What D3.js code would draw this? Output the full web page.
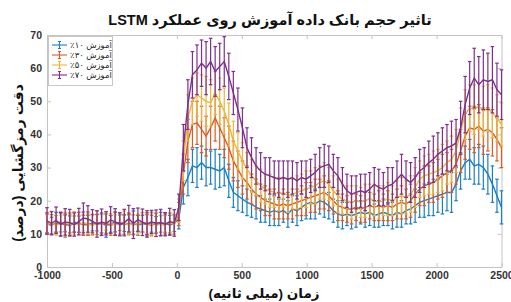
<!DOCTYPE html>
<html lang="fa">
<head>
    <meta charset="UTF-8">
    <title>LSTM</title>
    <script src="https://d3js.org/d3.v7.min.js"></script>
    <style>
        body { margin: 0; background: #ffffff; }
        svg { display: block; font-family: "Liberation Sans", Arial, "DejaVu Sans", sans-serif; }
        .fa { font-family: "Liberation Sans", "DejaVu Sans", sans-serif; direction: rtl; unicode-bidi: embed; }
        .axis path, .axis line { stroke: #c4c4c4; }
        .axis text { fill: #333; font-size: 10.5px; font-weight: bold; }
    </style>
</head>
<body>
<svg width="511" height="302"></svg>
<script>
    // زمان: -1000 تا 2500 میلی ثانیه، 101 نقطه
    const timeStart = -1000, timeEnd = 2500, numPoints = 101;
    const times = d3.range(numPoints).map(i => timeStart + i * (timeEnd - timeStart) / (numPoints - 1));

    const xTicks = [-1000, -500, 0, 500, 1000, 1500, 2000, 2500];
    const yTicks = [0, 10, 20, 30, 40, 50, 60, 70];

    const seriesNames = ["آموزش ۱۰٪", "آموزش ۳۰٪", "آموزش ۵۰٪", "آموزش ۷۰٪"];
    const seriesColors = ["#1b7fc6", "#dd5a22", "#edb43a", "#7e2f8e"];

    const blue = [13,12.5,13.5,12.8,13.2,12.4,13.6,12.9,13.1,12.6,13.4,12.8,13.3,12.5,13.0,13.6,12.7,13.2,12.9,13.4,12.6,13.1,12.8,13.5,12.7,13.0,13.3,12.6,13.2,
        14.5,
        24,27,30.5,30,31.5,30,30,29.5,29,30,26,22.5,21.5,20.5,
        19.5,19,18,17.5,17,16.5,17,16.5,17,16,17.5,17,18,19,19.5,19,20,19.5,18.5,17,16,15.5,16,15.5,16,16.5,16,16.5,
        15.5,16,16.5,16,15.5,16.5,16,17,17.5,18.5,19.5,20,20.5,21,21.5,22,22.5,22.5,25,29,31.5,32.5,30.5,31,30,28,25,21.5,18];
    const orange = [13.4,12.8,13.0,13.6,12.5,13.3,12.9,13.5,12.6,13.1,12.8,13.4,12.9,13.2,12.6,13.0,13.5,12.8,13.3,12.7,13.1,13.4,12.9,12.6,13.2,13.0,12.7,13.3,12.9,
        16,
        28,38,43,43.5,41.5,39.5,42,45,42,39,36,32,29.5,27,
        25.5,23.5,22,21,20,19.5,19,18.5,19,18.5,19,19.5,20,20.5,21,21.5,22,22.5,21.5,20,18.5,18,17.5,17.5,18,17.5,18,18.5,
        18,18.5,18,18.5,18,19,19.5,19,20,22,23.5,24.5,25,25.5,26.5,27.5,28.5,29,31,35,39.5,42,41.5,42.5,41,41.5,40.5,38.5,36];
    const yellow = [12.8,13.3,12.6,13.1,13.5,12.9,13.2,12.7,13.4,13.0,12.5,13.3,12.8,13.6,13.1,12.7,13.0,13.4,12.6,13.2,12.9,13.5,13.1,12.8,13.3,12.6,13.0,13.4,12.8,
        17,
        32,45,50,52,51,50,49.5,52.5,50,47,43,38,35,32,
        29.5,27.5,26,24.5,23.5,23,22.5,22,22.5,21.5,22,22.5,23,23.5,24,24.5,25.5,26,25,23,21.5,20.5,20,19.5,20,19.5,20,20.5,
        20,19.5,20,20.5,20,21,21.5,21,22,24,26.5,27.5,28,28.5,29,30,31.5,32.5,35,41,46,48,47.5,48.5,47,48,46.5,45,43];
    const purple = [13.9,13.2,14.1,12.9,13.6,13.4,12.8,13.7,14.8,14.5,13.8,13.0,13.5,13.2,14.2,13.6,12.9,13.4,14.6,13.1,14.3,13.5,13.0,13.6,13.2,13.4,12.9,13.7,13.3,
        18,
        36,49,58,59.5,61.5,60,62,59,60.5,62,57.5,52.5,47.5,42,
        36,33,30.5,29,28,27.5,27,26.5,27,26.5,27,26,27,26.5,27.5,28.5,30,
        30.5,31,29,27.5,25,23,22,22.5,23,22.5,23.5,
        25,24,23.5,24.5,25,26.5,28,26.5,25.5,27,29,30,31.5,32.5,34,35,36,36.5,37.5,42,49,54,57,55,56.5,56,56.5,53.5,52];

    // نیم طول میله خطا
    const blueErr = [3,2.5,3,3.5,2.5,3,3,2.5,3.5,3,2.5,3,3,3.5,2.5,3,3,2.5,3,3.5,3,2.5,3,3,2.5,3.5,3,3,2.5,
        3,
        5,5.5,5,6,5,5.5,5,6,5,5.5,5,4.5,4.5,4,
        4,4,3.5,4,3.5,4,4.5,4,3.5,4,4,4.5,4,4.5,5,4.5,4,4.5,4,3.5,4,4,3.5,4,4,3.5,4,4,
        3.5,4,4,3.5,4,4.5,4,4,4.5,5,4.5,5,5,5.5,5,6,5.5,6,5,5.5,5,6,5.5,6,6.5,6,5.5,5,5];
    const orangeErr = [3,3,2.5,3,3.5,3,2.5,3,3,3.5,3,2.5,3,3,3,3.5,2.5,3,3,3,2.5,3,3.5,3,3,2.5,3,3,3,
        3.5,
        6,6.5,7,6.5,7,6,6.5,7,6.5,6,6.5,6,5.5,5,
        5,4.5,4.5,4,4.5,4,4.5,4,4.5,4,4.5,4,4.5,5,4.5,5,4.5,5,4.5,4,4.5,4,4,4.5,4,4,4.5,4,
        4,4.5,4,4.5,4,4.5,5,4.5,5,5.5,5,6,5.5,6,6,6.5,6,6.5,6,6.5,7,6.5,7,6.5,7,6.5,7,6.5,6];
    const yellowErr = [3,3.5,3,2.5,3,3,3.5,3,2.5,3,3,3.5,3,2.5,3,3,3,3.5,3,2.5,3,3,3,3.5,3,3,2.5,3,3,
        3.5,
        6,7,7,6.5,7,7.5,7,6.5,7,7,6.5,6,5.5,5.5,
        5,5,4.5,5,4.5,5,4.5,5,4.5,5,4.5,5,5,5.5,5,5.5,5,5.5,5,4.5,5,4.5,4.5,5,4.5,4.5,5,4.5,
        4.5,5,4.5,5,4.5,5,5.5,5,5.5,6,5.5,6,6,6.5,6.5,7,6.5,7,6.5,7,7.5,7,7.5,7,7.5,7,7.5,7,6.5];
    const purpleErr = [4,3.5,4,3.5,4,4,3.5,4,4.5,4,3.5,4,4,3.5,4,4,3.5,4,4,4.5,3.5,4,4,3.5,4,4,3.5,4,4,
        4,
        7,7.5,7,7.5,7,8,7,7.5,7,7.5,7,6.5,6.5,6,
        6,6,5.5,5.5,5,5.5,5,5.5,5,5.5,5,5.5,5,5.5,5,5.5,6,6.5,5.5,5,5.5,5,5,5.5,5,5,5.5,5,
        5,5.5,5,5.5,5,5.5,6,5.5,6,6,6.5,6,6.5,7,6.5,7,7,7.5,7,8,8.5,8,9,8.5,9,8.5,10,8,7.5];

    const seriesValues = [blue, orange, yellow, purple];
    const seriesErrors = [blueErr, orangeErr, yellowErr, purpleErr];

    const margin = { left: 47, right: 9.5, top: 35, bottom: 35 };
    const width = 511, height = 302;

    const svg = d3.select("svg");

    const x = d3.scaleLinear().domain([timeStart, timeEnd]).range([margin.left, width - margin.right]);
    const y = d3.scaleLinear().domain([0, 70]).range([height - margin.bottom, margin.top]);

    const plain = d => String(d);

    // محورها
    svg.append("g").attr("class", "axis")
        .attr("transform", `translate(0,${y(0)})`)
        .call(d3.axisBottom(x).tickValues(xTicks).tickFormat(plain).tickSize(-4).tickPadding(5).tickSizeOuter(0));
    svg.append("g").attr("class", "axis")
        .attr("transform", `translate(0,${y(70)})`)
        .call(d3.axisTop(x).tickValues(xTicks).tickSize(-4).tickFormat("").tickSizeOuter(0));
    svg.append("g").attr("class", "axis")
        .attr("transform", `translate(${x(timeStart)},0)`)
        .call(d3.axisLeft(y).tickValues(yTicks).tickFormat(plain).tickSize(-4).tickPadding(5).tickSizeOuter(0));
    svg.append("g").attr("class", "axis")
        .attr("transform", `translate(${x(timeEnd)},0)`)
        .call(d3.axisRight(y).tickValues(yTicks).tickSize(-4).tickFormat("").tickSizeOuter(0));

    // سری ها
    const line = d3.line().x((d, i) => x(times[i])).y(d => y(d));
    const cap = 1.8;

    seriesValues.forEach((vals, s) => {
        const g = svg.append("g").attr("stroke", seriesColors[s]).attr("fill", "none").attr("stroke-width", 1.2);
        const errs = seriesErrors[s];
        const bars = g.selectAll("g.eb").data(vals).enter().append("g").attr("class", "eb");
        bars.append("line")
            .attr("x1", (d, i) => x(times[i])).attr("x2", (d, i) => x(times[i]))
            .attr("y1", (d, i) => y(d - errs[i])).attr("y2", (d, i) => y(d + errs[i]));
        bars.append("line")
            .attr("x1", (d, i) => x(times[i]) - cap).attr("x2", (d, i) => x(times[i]) + cap)
            .attr("y1", (d, i) => y(d + errs[i])).attr("y2", (d, i) => y(d + errs[i]));
        bars.append("line")
            .attr("x1", (d, i) => x(times[i]) - cap).attr("x2", (d, i) => x(times[i]) + cap)
            .attr("y1", (d, i) => y(d - errs[i])).attr("y2", (d, i) => y(d - errs[i]));
        g.append("path").datum(vals).attr("d", line).attr("stroke-width", 1.4);
    });

    // راهنما
    const legend = svg.append("g");
    legend.append("rect")
        .attr("x", margin.left + 1.5).attr("y", margin.top + 1.5)
        .attr("width", 64).attr("height", 49)
        .attr("fill", "#fff").attr("stroke", "#c8c8c8");
    seriesNames.forEach((name, s) => {
        const ly = margin.top + 10 + s * 10;
        const lg = legend.append("g").attr("stroke", seriesColors[s]).attr("stroke-width", 1.1);
        lg.append("line").attr("x1", 52).attr("x2", 67).attr("y1", ly).attr("y2", ly);
        lg.append("line").attr("x1", 59.5).attr("x2", 59.5).attr("y1", ly - 3.5).attr("y2", ly + 3.5);
        lg.append("line").attr("x1", 58).attr("x2", 61).attr("y1", ly - 3.5).attr("y2", ly - 3.5);
        lg.append("line").attr("x1", 58).attr("x2", 61).attr("y1", ly + 3.5).attr("y2", ly + 3.5);
        legend.append("text").attr("class", "fa")
            .attr("x", 91).attr("y", ly + 3)
            .attr("text-anchor", "middle")
            .attr("font-size", 8.5).attr("fill", "#262626")
            .text(name);
    });

    // عنوان ها
    svg.append("text").attr("class", "fa")
        .attr("x", 270).attr("y", 25)
        .attr("text-anchor", "middle").attr("font-size", 14.5).attr("font-weight", "bold").attr("fill", "#111")
        .text("تاثیر حجم بانک داده آموزش روی عملکرد LSTM");

    svg.append("text").attr("class", "fa")
        .attr("x", 264).attr("y", 298)
        .attr("text-anchor", "middle").attr("font-size", 13.5).attr("font-weight", "bold").attr("fill", "#111")
        .text("زمان (میلی ثانیه)");

    svg.append("text").attr("class", "fa")
        .attr("transform", "translate(23,163) rotate(-90)")
        .attr("text-anchor", "middle").attr("font-size", 14).attr("font-weight", "bold").attr("fill", "#111")
        .text("دقت رمزگشایی (درصد)");
</script>
</body>
</html>
